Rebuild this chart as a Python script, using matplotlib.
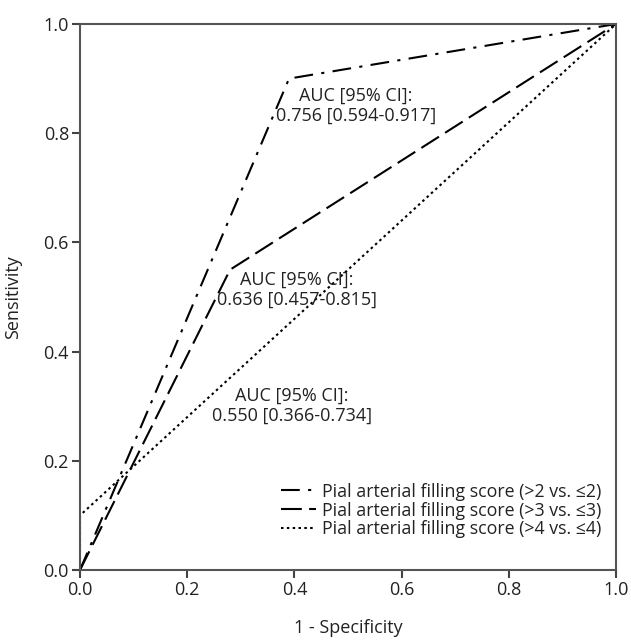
import numpy as np
import matplotlib.pyplot as plt

plt.rcParams['font.family'] = ['Open Sans', 'DejaVu Sans']

# ROC points (1 - specificity, sensitivity)
fpr_2 = [0.0, 0.39, 1.0]
tpr_2 = [0.0, 0.90, 1.0]
fpr_3 = [0.0, 0.28, 1.0]
tpr_3 = [0.0, 0.55, 1.0]
fpr_4 = [0.0, 0.0, 1.0]
tpr_4 = [0.0, 0.10, 1.0]

labels = ["Pial arterial filling score (>2 vs. \u22642)",
          "Pial arterial filling score (>3 vs. \u22643)",
          "Pial arterial filling score (>4 vs. \u22644)"]
auc_texts = ["AUC [95% CI]:\n0.756 [0.594-0.917]",
             "AUC [95% CI]:\n0.636 [0.457-0.815]",
             "AUC [95% CI]:\n0.550 [0.366-0.734]"]
auc_pos = [(0.515, 0.851), (0.404, 0.513), (0.395, 0.300)]

fig = plt.figure(figsize=(6.31, 6.41), dpi=100)
ax = fig.add_axes([80/631, 71/641, 536/631, 546/641])

ax.plot(fpr_2, tpr_2, color="black", lw=1.5, dashes=(9, 4, 1.5, 4), label=labels[0])
ax.plot(fpr_3, tpr_3, color="black", lw=1.5, dashes=(10, 3.5), label=labels[1])
ax.plot(fpr_4, tpr_4, color="black", lw=1.5, dashes=(1.2, 1.6), label=labels[2])

for txt, (x, y) in zip(auc_texts, auc_pos):
  ax.text(x, y, txt, ha="center", va="center", fontsize=13, color="#222222", linespacing=1.15)

ax.set_xlim(0, 1)
ax.set_ylim(0, 1)
ticks = np.arange(0, 1.01, 0.2)
ax.set_xticks(ticks)
ax.set_yticks(ticks)
ax.set_xticklabels([f"{t:.1f}" for t in ticks])
ax.set_yticklabels([f"{t:.1f}" for t in ticks])
ax.tick_params(direction="out", length=6, width=1.5, color="#444444", labelsize=13, labelcolor="#222222", pad=2)
for s in ax.spines.values():
  s.set_color("#555555")
  s.set_linewidth(1.5)

ax.set_xlabel("1 - Specificity", fontsize=13, color="#222222", labelpad=14)
ax.set_ylabel("Sensitivity", fontsize=13, color="#222222", labelpad=15)

ax.legend(loc="lower right", frameon=False, fontsize=12.8, handlelength=2.0, handletextpad=0.3,
          labelspacing=0.05, bbox_to_anchor=(0.995, 0.035), borderaxespad=0.3, labelcolor="#222222")

fig.savefig("out.png", dpi=100)
